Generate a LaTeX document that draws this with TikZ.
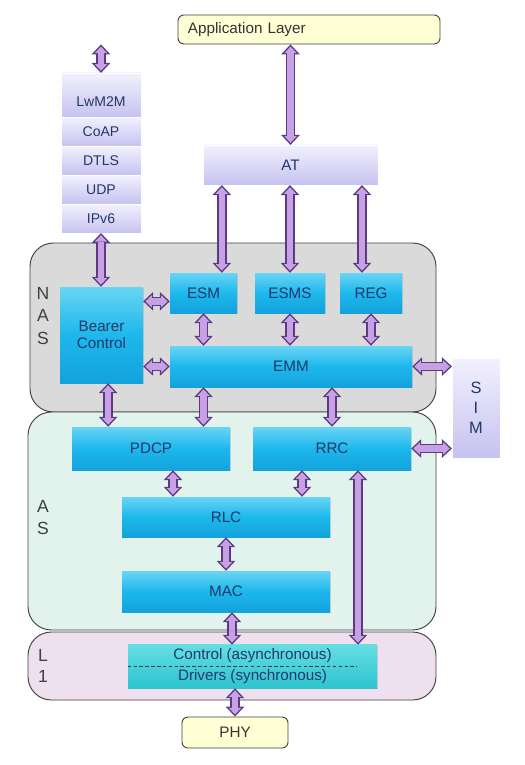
\documentclass[tikz,border=0pt]{standalone}
\usepackage{fontspec}
\setmainfont{Liberation Sans}
\usepackage{tikz}
\usetikzlibrary{arrows.meta,positioning,shadows}
\definecolor{appfill}{RGB}{255,255,213}
\definecolor{edge}{RGB}{64,64,64}
\definecolor{lavtop}{RGB}{242,241,253}
\definecolor{lavbot}{RGB}{198,194,240}
\definecolor{cyantop}{RGB}{105,212,244}
\definecolor{cyanmid}{RGB}{28,184,236}
\definecolor{cyanbot}{RGB}{20,162,220}
\definecolor{tealtop}{RGB}{100,222,226}
\definecolor{tealbot}{RGB}{45,196,206}
\definecolor{nasfill}{RGB}{218,218,218}
\definecolor{asfill}{RGB}{226,243,238}
\definecolor{lonefill}{RGB}{238,224,238}
\definecolor{arrfill}{RGB}{200,160,230}
\definecolor{arrline}{RGB}{92,58,128}
\definecolor{navy}{RGB}{35,55,105}
\tikzset{
    sz/.style 2 args={minimum width=#1*0.03cm, minimum height=#2*0.03cm},
    region/.style={rectangle, draw=edge, thick, rounded corners=20pt},
    side/.style={font=\fontsize{15}{19.5}\selectfont, text=black!75, align=center},
    layer/.style={rectangle, draw=edge, thick, rounded corners=5pt, fill=appfill, font=\fontsize{13}{15}\selectfont, text=black!80},
    proto/.style={rectangle, top color=lavtop, bottom color=lavbot, draw=white, very thin, font=\fontsize{12}{14}\selectfont, text=navy, inner sep=0pt},
    func/.style={rectangle, top color=cyantop, bottom color=cyanbot, middle color=cyanmid, font=\fontsize{13}{15}\selectfont, text=navy, align=center, drop shadow={opacity=0.25, shadow xshift=1pt, shadow yshift=-1pt}},
    drv/.style={rectangle, top color=tealtop, bottom color=tealbot, font=\fontsize{13}{18}\selectfont, text=navy, align=center, drop shadow={opacity=0.25, shadow xshift=1pt, shadow yshift=-1pt}},
    fatarrow/.style={draw=arrline, line width=8pt,
        {Triangle[length=8.5pt,width=16pt,line width=0pt]}-{Triangle[length=8.5pt,width=16pt,line width=0pt]},
        postaction={draw=arrfill, line width=5.6pt, shorten <=1.8pt, shorten >=1.8pt,
        {Triangle[length=5.6pt,width=10.6pt,line width=0pt]}-{Triangle[length=5.6pt,width=10.6pt,line width=0pt]}}},
}
\begin{document}
\begin{tikzpicture}[x=0.03cm, y=-0.03cm]
    \useasboundingbox (0,0) rectangle (524,765);

    \node[region, fill=nasfill, sz={406}{169}] (nas) at (233,327.5) {};
    \node[region, fill=asfill, sz={408}{218}] (as) at (232,521) {};
    \node[region, fill=lonefill, sz={408}{68}] (lone) at (232,666) {};
    \node[side] (naslbl) at (43,316) {N\\A\\S};
    \node[side, font=\fontsize{15}{18}\selectfont] (aslbl) at (43,517.5) {A\\S};
    \node[side, font=\fontsize{15}{18.5}\selectfont] (lonelbl) at (43,666) {L\\1};

    \node[layer, sz={262}{29}, inner xsep=0pt, text width=7.26cm, align=left] (app) at (309,29.5) {Application Layer};

    \node[proto, sz={80}{44}, text height=20pt] (lwm) at (101,95) {LwM2M};
    \node[proto, sz={80}{28.75}, below=0pt of lwm] (coap) {CoAP};
    \node[proto, sz={80}{28.75}, below=0pt of coap] (dtls) {DTLS};
    \node[proto, sz={80}{28.75}, below=0pt of dtls] (udp) {UDP};
    \node[proto, sz={80}{28.75}, below=0pt of udp] (ipv) {IPv6};

    \node[proto, sz={175}{40}, font=\fontsize{13}{15}\selectfont] (at) at (290.5,165) {AT};
    \node[proto, sz={48}{100}, align=center, font=\fontsize{14}{17}\selectfont] (sim) at (476,408) {S\\I\\M};

    \node[func, sz={83}{96}] (bearer) at (101.5,335) {Bearer\\Control};
    \node[func, sz={67}{40}] (esm) at (203.5,293) {ESM};
    \node[func, sz={70}{40}] (esms) at (290,293) {ESMS};
    \node[func, sz={62}{40}] (reg) at (371,293) {REG};
    \node[func, sz={242}{41}] (emm) at (291,366.5) {EMM};
    \node[func, sz={158}{43}] (pdcp) at (151,448.5) {PDCP};
    \node[func, sz={158}{43}] (rrc) at (332,448.5) {RRC};
    \node[func, sz={208}{40}] (rlc) at (226,517) {RLC};
    \node[func, sz={208}{41}] (mac) at (226,591.5) {MAC};
    \node[drv, sz={249}{43}] (ctrl) at (252.5,666.5) {Control (asynchronous)\\Drivers (synchronous)};
    \draw[navy, dash pattern=on 3pt off 2pt] (ctrl.west) -- ([xshift=-0.6cm]ctrl.east);

    \node[layer, sz={106}{31}] (phy) at (235,732.5) {PHY};

    \draw[fatarrow] (app.south -| lwm.north) -- (lwm.north);
    \draw[fatarrow] (at.north |- app.south) -- (at.north);
    \draw[fatarrow] (ipv.south) -- (ipv.south |- bearer.north);
    \draw[fatarrow] ([xshift=0.55cm]esm.north |- at.south) -- ([xshift=0.55cm]esm.north);
    \draw[fatarrow] (esms.north |- at.south) -- (esms.north);
    \draw[fatarrow] ([xshift=-0.27cm]reg.north |- at.south) -- ([xshift=-0.27cm]reg.north);
    \draw[fatarrow] ([yshift=-0.25cm]bearer.east |- esm.west) -- ([yshift=-0.25cm]esm.west);
    \draw[fatarrow] (bearer.east |- emm.west) -- (emm.west);
    \draw[fatarrow] (esm.south) -- (esm.south |- emm.north);
    \draw[fatarrow] (esms.south) -- (esms.south |- emm.north);
    \draw[fatarrow] (reg.south) -- (reg.south |- emm.north);
    \draw[fatarrow] (emm.east) -- (emm.east -| sim.west);
    \draw[fatarrow] (rrc.east) -- (rrc.east -| sim.west);
    \draw[fatarrow] ([xshift=0.2cm]bearer.south) -- ([xshift=0.2cm]bearer.south |- pdcp.north);
    \draw[fatarrow] (esm.south |- emm.south) -- (esm.south |- pdcp.north);
    \draw[fatarrow] (rrc.north |- emm.south) -- (rrc.north);
    \draw[fatarrow] ([xshift=0.66cm]pdcp.south) -- ([xshift=0.66cm]pdcp.south |- rlc.north);
    \draw[fatarrow] ([xshift=-0.9cm]rrc.south) -- ([xshift=-0.9cm]rrc.south |- rlc.north);
    \draw[fatarrow] (rlc.south) -- (mac.north);
    \draw[fatarrow] ([xshift=0.78cm]rrc.south) -- ([xshift=0.78cm]rrc.south |- ctrl.north);
    \draw[fatarrow] ([xshift=0.18cm]mac.south) -- ([xshift=0.18cm]mac.south |- ctrl.north);
    \draw[fatarrow] (phy.north |- ctrl.south) -- (phy.north);
\end{tikzpicture}
\end{document}
